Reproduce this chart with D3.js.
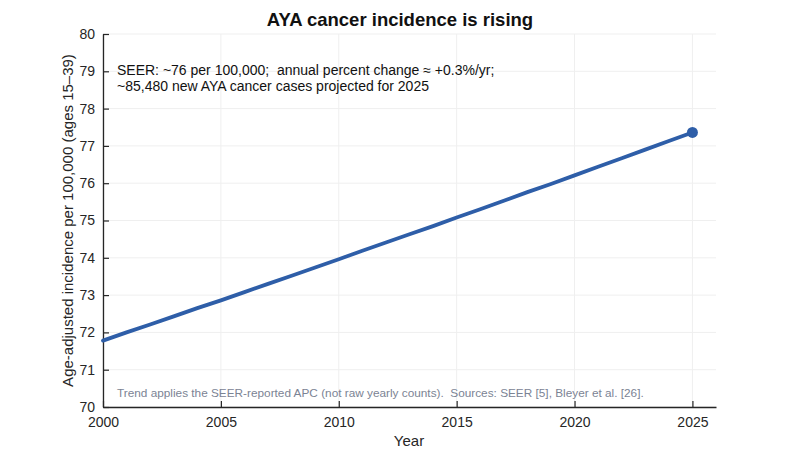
<!DOCTYPE html>
<html><head><meta charset="utf-8">
<script src="https://cdn.jsdelivr.net/npm/d3@7"></script>
<style>body{margin:0;background:#fff}text{font-family:"Liberation Sans",Arial,sans-serif;white-space:pre}</style>
</head><body><svg id="c" width="792" height="458"></svg>
<script>
const years = [2000,2001,2002,2003,2004,2005,2006,2007,2008,2009,2010,2011,2012,2013,2014,2015,2016,2017,2018,2019,2020,2021,2022,2023,2024,2025];
const incidence = [71.78,72.00,72.21,72.43,72.65,72.86,73.08,73.30,73.52,73.74,73.96,74.19,74.41,74.63,74.85,75.08,75.30,75.53,75.76,75.98,76.21,76.44,76.67,76.90,77.13,77.36];
const xTicks = [2000,2005,2010,2015,2020,2025];
const yTicks = [70,71,72,73,74,75,76,77,78,79,80];
const title = "AYA cancer incidence is rising";
const noteLines = ["SEER: ~76 per 100,000;  annual percent change \u2248 +0.3%/yr;", "~85,480 new AYA cancer cases projected for 2025"];
const footnote = "Trend applies the SEER-reported APC (not raw yearly counts).  Sources: SEER [5], Bleyer et al. [26].";

const svg = d3.select("#c");
const L=103, R=716, T=34, B=407;
const x = d3.scaleLinear().domain([2000,2026]).range([L,R]);
const y = d3.scaleLinear().domain([70,80]).range([B,T]);

const g = svg.append("g");
g.selectAll(".gx").data(xTicks).join("line").attr("x1",d=>x(d)).attr("x2",d=>x(d)).attr("y1",T).attr("y2",B).attr("stroke","#efefef").attr("stroke-width",1);
g.selectAll(".gy").data(yTicks).join("line").attr("x1",L).attr("x2",R).attr("y1",d=>y(d)).attr("y2",d=>y(d)).attr("stroke","#efefef").attr("stroke-width",1);

const xa = svg.append("g").attr("transform",`translate(0,${B})`).call(d3.axisBottom(x).tickValues(xTicks).tickFormat(d3.format("d")).tickSizeInner(-6).tickSizeOuter(0).tickPadding(10));
const ya = svg.append("g").attr("transform",`translate(${L},0)`).call(d3.axisLeft(y).tickValues(yTicks).tickSizeInner(-6).tickSizeOuter(0).tickPadding(8));
[xa,ya].forEach(a=>{a.select(".domain").attr("stroke","#262626").attr("stroke-width",1.3);a.selectAll(".tick line").attr("stroke","#262626").attr("stroke-width",1.2);a.selectAll("text").attr("font-size",14).attr("fill","#262626").attr("font-family","Liberation Sans, Arial, sans-serif");});

const line = d3.line().x((d,i)=>x(years[i])).y(d=>y(d));
svg.append("path").datum(incidence).attr("d",line).attr("fill","none").attr("stroke","#2e5ea8").attr("stroke-width",3.8).attr("stroke-linecap","round");
svg.append("circle").attr("cx",x(years[years.length-1])).attr("cy",y(incidence[incidence.length-1])).attr("r",5.5).attr("fill","#2e5ea8");

svg.append("text").attr("x",400).attr("y",26).attr("text-anchor","middle").attr("font-size",18.5).attr("font-weight","bold").attr("fill","#111").text(title);
svg.append("text").attr("x",409).attr("y",446).attr("text-anchor","middle").attr("font-size",15).attr("fill","#262626").text("Year");
svg.append("text").attr("transform",`translate(73,${(T+B)/2}) rotate(-90)`).attr("text-anchor","middle").attr("font-size",15).attr("fill","#262626").text("Age-adjusted incidence per 100,000 (ages 15\u201339)");
noteLines.forEach((t,i)=>svg.append("text").attr("x",117).attr("y",75+i*16).attr("font-size",14).attr("fill","#111").attr("xml:space","preserve").text(t));
svg.append("text").attr("x",117).attr("y",397).attr("font-size",11.8).attr("fill","#7b8394").attr("xml:space","preserve").text(footnote);
</script></body></html>
